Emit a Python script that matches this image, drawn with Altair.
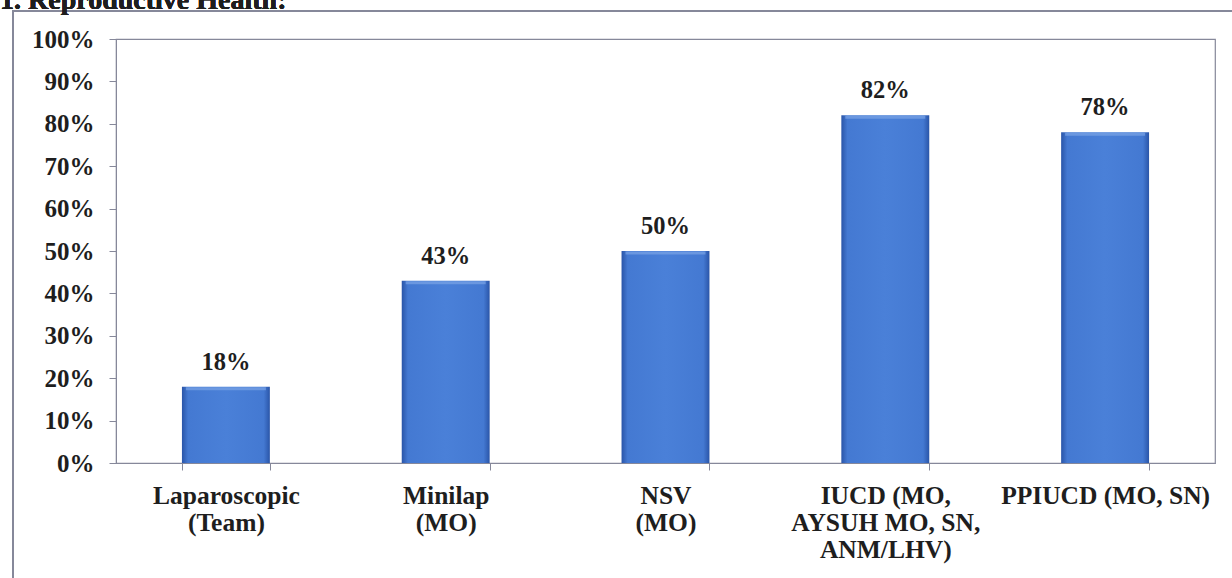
import altair as alt
import pandas as pd

# Reproductive health training coverage by method
methods = [
    "Laparoscopic|(Team)",
    "Minilap|(MO)",
    "NSV|(MO)",
    "IUCD (MO,|AYSUH MO, SN,|ANM/LHV)",
    "PPIUCD (MO, SN)",
]
coverage = [0.18, 0.43, 0.50, 0.82, 0.78]
y_ticks = [i / 10 for i in range(11)]

df = pd.DataFrame({"method": methods, "coverage": coverage})

W, H = 1099, 424
SERIF = "Liberation Serif"
INK = "#1e1e1e"
LINE = "#86889a"

x_enc = alt.X(
    "method:N",
    sort=methods,
    scale=alt.Scale(paddingInner=0.6, paddingOuter=0.3),
    axis=alt.Axis(
        title=None,
        labelAngle=0,
        labelExpr="split(datum.label, '|')",
        labelFont=SERIF,
        labelFontWeight="bold",
        labelFontSize=25.5,
        labelColor=INK,
        labelLineHeight=27,
        labelPadding=13,
        labelBaseline="top",
        labelLimit=400,
        labelOverlap=False,
        domainColor=LINE,
        tickColor=LINE,
        tickSize=7,
        tickBand="extent",
        grid=False,
    ),
)
y_enc = alt.Y(
    "coverage:Q",
    scale=alt.Scale(domain=[0, 1], nice=False),
    axis=alt.Axis(
        title=None,
        values=y_ticks,
        format=".0%",
        labelFont=SERIF,
        labelFontWeight="bold",
        labelFontSize=25,
        labelColor=INK,
        labelPadding=15,
        domainColor=LINE,
        tickColor=LINE,
        tickSize=7,
        grid=False,
    ),
)

bar_fill = alt.Gradient(
    gradient="linear",
    x1=0, x2=1, y1=0, y2=0,
    stops=[
        alt.GradientStop(color="#2a55a8", offset=0),
        alt.GradientStop(color="#4479d2", offset=0.07),
        alt.GradientStop(color="#4a80d8", offset=0.5),
        alt.GradientStop(color="#4479d2", offset=0.93),
        alt.GradientStop(color="#2a55a8", offset=1),
    ],
)

bars = alt.Chart(df).mark_bar(fill=bar_fill).encode(x=x_enc, y=y_enc)

# lighter bevel strip across each bar's top edge
bevel = alt.Chart(df).mark_tick(
    color="#7aa4e6", thickness=3, size=80, yOffset=2
).encode(x=alt.X("method:N", sort=methods), y="coverage:Q")

labels = alt.Chart(df).mark_text(
    font=SERIF, fontWeight="bold", fontSize=24.5, color=INK, dy=-17,
    baseline="alphabetic",
).encode(
    x=alt.X("method:N", sort=methods),
    y="coverage:Q",
    text=alt.Text("coverage:Q", format=".0%"),
)

# outer frame around the figure
frame = alt.Chart(df).mark_rect(
    fill=None, stroke=LINE, strokeWidth=1.5
).encode(
    x=alt.value(-103), x2=alt.value(W + 60),
    y=alt.value(-28), y2=alt.value(H + 200),
)

heading = alt.Chart(df).mark_text(
    text="1.  Reproductive Health:",
    font=SERIF, fontWeight="bold", fontSize=28, color=INK,
    align="left", baseline="alphabetic",
).encode(x=alt.value(-116), y=alt.value(-30))

chart = (
    alt.layer(frame, bars, bevel, labels, heading)
    .properties(
        width=W,
        height=H,
        autosize=alt.AutoSizeParams(type="none"),
        padding={"left": 116, "top": 39, "right": 17, "bottom": 115},
        background="white",
    )
    .configure_view(stroke=LINE, strokeWidth=1.2)
)

chart.save("out.html", embed_options={"renderer": "svg", "actions": False})
